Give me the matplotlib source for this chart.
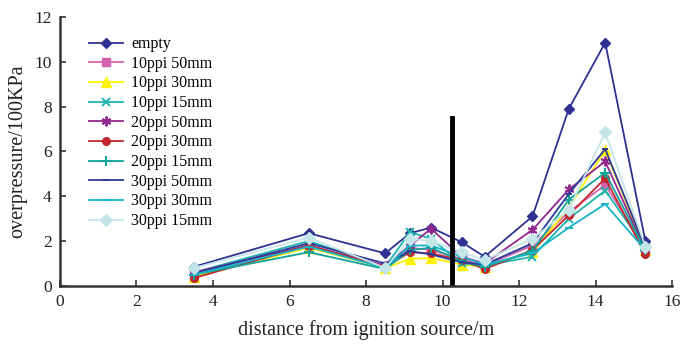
import matplotlib
matplotlib.use("Agg")
import matplotlib.pyplot as plt

plt.rcParams['font.family'] = ['Liberation Serif', 'DejaVu Serif']

x = [3.5, 6.5, 8.5, 9.15, 9.7, 10.5, 11.1, 12.35, 13.3, 14.25, 15.3]

series_names = ["empty", "10ppi 50mm", "10ppi 30mm", "10ppi 15mm", "20ppi 50mm",
                "20ppi 30mm", "20ppi 15mm", "30ppi 50mm", "30ppi 30mm", "30ppi 15mm"]

empty      = [0.85, 2.35, 1.45, 2.35, 2.6, 1.95, 1.3, 3.1, 7.9, 10.85, 2.0]
ppi10_50   = [0.5, 1.75, 0.9, 1.7, 1.6, 1.2, 0.9, 1.8, 3.3, 4.5, 1.7]
ppi10_30   = [0.4, 1.7, 0.8, 1.2, 1.25, 0.95, 0.85, 1.5, 3.5, 6.05, 1.6]
ppi10_15   = [0.6, 2.0, 0.85, 2.4, 2.1, 1.0, 0.9, 1.3, 3.0, 4.25, 1.7]
ppi20_50   = [0.6, 1.8, 0.9, 1.8, 2.55, 1.3, 1.0, 2.5, 4.3, 5.55, 1.6]
ppi20_30   = [0.35, 1.8, 0.85, 1.5, 1.45, 1.15, 0.75, 1.6, 3.15, 4.8, 1.4]
ppi20_15   = [0.5, 1.5, 0.75, 1.6, 1.7, 1.1, 0.85, 1.55, 3.85, 5.05, 1.6]
ppi30_50   = [0.55, 1.9, 1.0, 1.55, 1.4, 1.05, 0.95, 1.9, 4.1, 6.1, 1.7]
ppi30_30   = [0.5, 1.75, 0.8, 1.8, 1.8, 1.3, 0.95, 1.45, 2.6, 3.65, 1.6]
ppi30_15   = [0.8, 2.15, 0.8, 2.1, 2.0, 1.5, 1.15, 2.1, 3.4, 6.85, 1.75]

all_series = [empty, ppi10_50, ppi10_30, ppi10_15, ppi20_50,
              ppi20_30, ppi20_15, ppi30_50, ppi30_30, ppi30_15]

colors = ["#2E3192", "#D462AE", "#FFF200", "#1FB5AD", "#93278F",
          "#C1272D", "#0FA39A", "#2B3A9A", "#14B4C8", "#C4E6E8"]
markers = ["D", "s", "^", "x", (6, 2, 0), "o", "+", "_", "_", "D"]
msizes = [5, 5.5, 6.5, 6, 7, 5.5, 7, 5, 6, 6.5]

divider_x = 10.25
divider_top = 7.5

fig = plt.figure(figsize=(6.81, 3.44), dpi=100)
ax = fig.add_axes([0.088, 0.169, 0.899, 0.782])

for name, ys, c, m, ms in zip(series_names, all_series, colors, markers, msizes):
    thin = m in ("x", "+", "_") or isinstance(m, tuple)
    ax.plot(x, ys, color=c, marker=m, markersize=ms, linewidth=1.3,
            markeredgewidth=1.4 if thin else 1.0,
            label=name, clip_on=False)

ax.plot([divider_x, divider_x], [0, divider_top], color="black", linewidth=3.5)

ax.set_xlim(0, 16)
ax.set_ylim(0, 12)
ax.set_xticks(range(0, 17, 2))
ax.set_yticks(range(0, 13, 2))
ax.tick_params(direction="in", length=4, width=1.2, labelsize=12.5, colors="#333333",
               labelcolor="#222222", pad=6)
ax.spines["top"].set_visible(False)
ax.spines["right"].set_visible(False)
for s in ("left", "bottom"):
    ax.spines[s].set_linewidth(1.8)
    ax.spines[s].set_color("#333333")

ax.set_xlabel("distance from ignition source/m", fontsize=14.5, color="#222222", labelpad=7)
ax.set_ylabel("overpressure/100KPa", fontsize=14.5, color="#222222", labelpad=5)

leg = ax.legend(loc="upper left", bbox_to_anchor=(0.03, 0.97), frameon=False,
                fontsize=11.5, handlelength=2.1, labelspacing=0.23, handletextpad=0.5,
                borderaxespad=0.3)

fig.savefig("out.png", dpi=100)
